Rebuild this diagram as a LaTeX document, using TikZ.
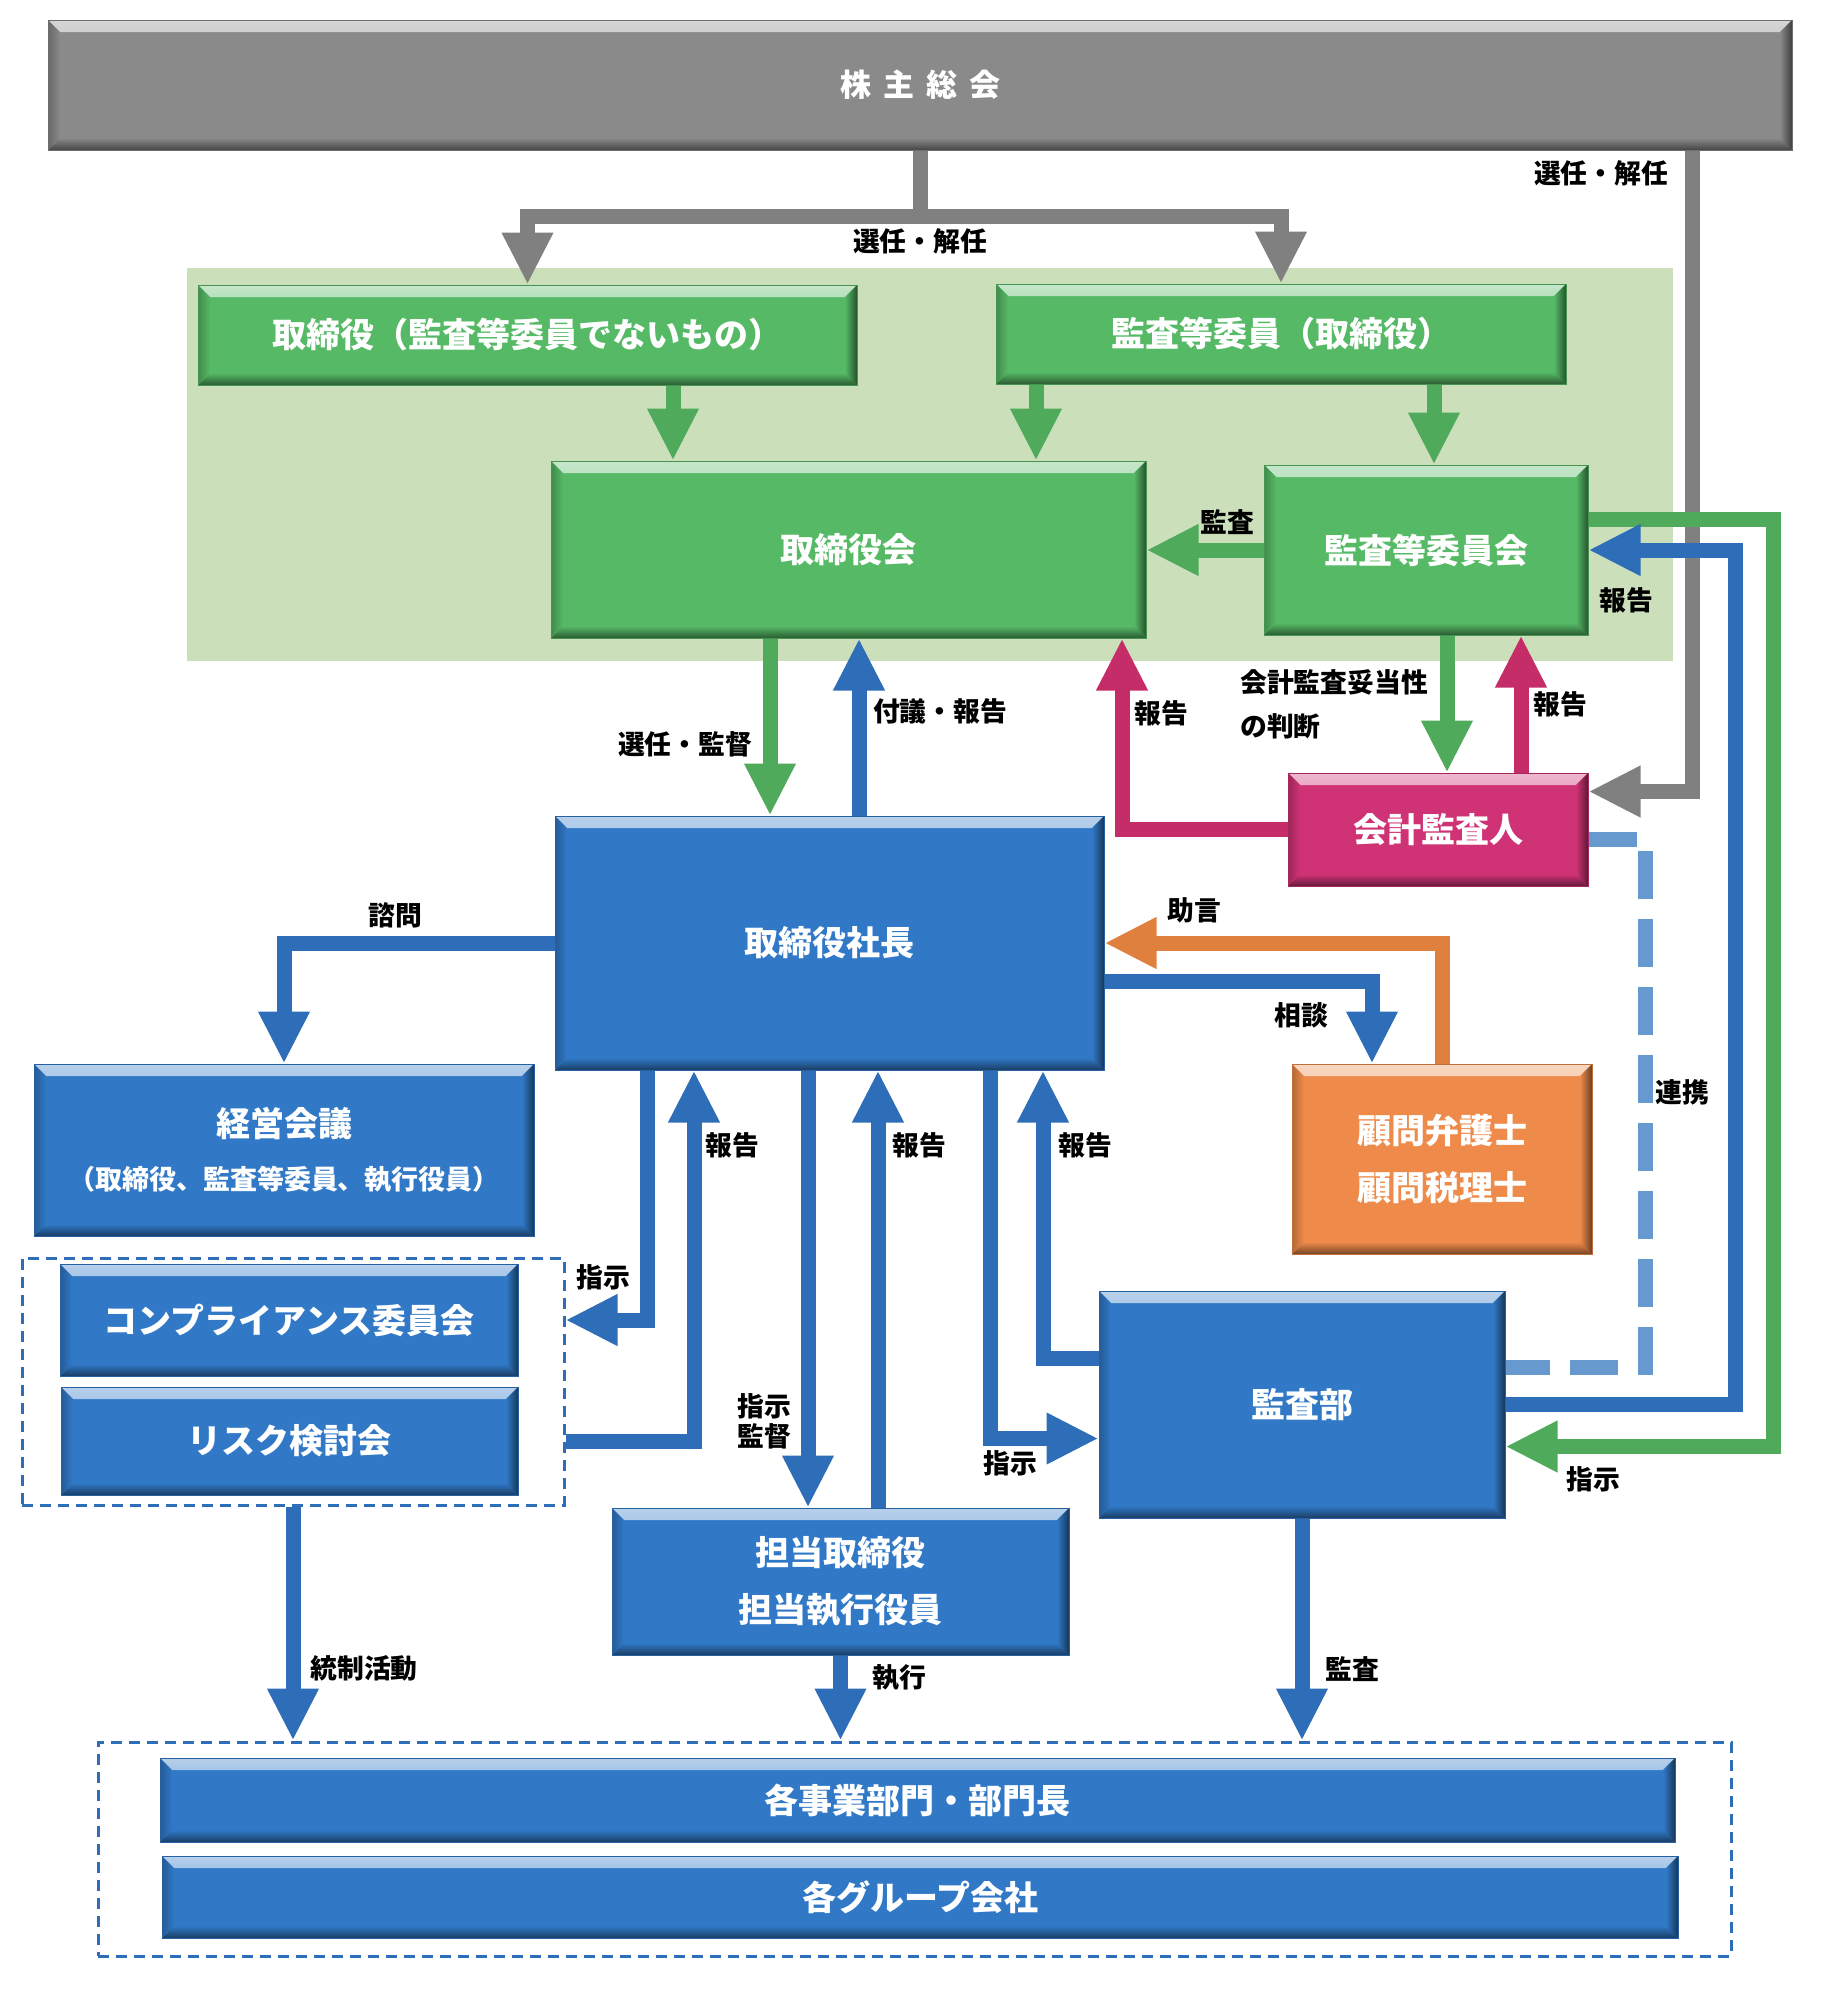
\documentclass[tikz,border=0pt]{standalone}
\usepackage{fontspec}
\setmainfont{Noto Sans CJK JP}
\usetikzlibrary{arrows.meta}

\definecolor{boxgray}{HTML}{8A8A8A}
\definecolor{linegray}{HTML}{808080}
\definecolor{boxgreen}{HTML}{56B965}
\definecolor{linegreen}{HTML}{4FAA5B}
\definecolor{bggreen}{HTML}{CADFBA}
\definecolor{boxblue}{HTML}{3179C7}
\definecolor{lineblue}{HTML}{2E6DB8}
\definecolor{boxpink}{HTML}{D03375}
\definecolor{linepink}{HTML}{C42D67}
\definecolor{boxorange}{HTML}{EE8B4B}
\definecolor{lineorange}{HTML}{E0803F}
\definecolor{dashblue}{HTML}{6699CD}

\newcommand{\titlefont}{\bfseries\fontsize{31}{37}\selectfont}
\newcommand{\panelfont}{\bfseries\fontsize{34}{57}\selectfont}
\newcommand{\flowfont}{\bfseries\fontsize{26.8}{30}\selectfont}

\newcommand{\bevelfill}[1]{%
  \shade[top color=#1!35!white, bottom color=#1]
    (path picture bounding box.north west) -- (path picture bounding box.north east)
    -- ([shift={(-12pt,-12pt)}]path picture bounding box.north east)
    -- ([shift={(12pt,-12pt)}]path picture bounding box.north west) -- cycle;
  \shade[top color=#1, bottom color=#1!50!black]
    ([shift={(12pt,12pt)}]path picture bounding box.south west)
    -- ([shift={(-12pt,12pt)}]path picture bounding box.south east)
    -- (path picture bounding box.south east) -- (path picture bounding box.south west) -- cycle;
  \shade[left color=#1, right color=#1!45!black]
    ([shift={(-12pt,-12pt)}]path picture bounding box.north east) -- (path picture bounding box.north east)
    -- (path picture bounding box.south east)
    -- ([shift={(-12pt,12pt)}]path picture bounding box.south east) -- cycle;
  \shade[left color=#1!75!black, right color=#1]
    (path picture bounding box.north west) -- ([shift={(12pt,-12pt)}]path picture bounding box.north west)
    -- ([shift={(12pt,12pt)}]path picture bounding box.south west)
    -- (path picture bounding box.south west) -- cycle;
}

\tikzset{
  panel/.style={fill=#1, draw=#1!80!black, line width=1pt, path picture={\bevelfill{#1}},
                text=white, font=\panelfont, align=center, inner sep=0pt},
  pipe/.style={draw=#1, line width=15pt, line join=miter},
  flow/.style={pipe=#1, -{Triangle[width=48pt,length=52pt]}},
  flowtag/.style={font=\flowfont, inner sep=0pt},
  groupbox/.style={draw=lineblue, line width=3pt, dash pattern=on 11pt off 7pt, inner sep=0pt}
}

\begin{document}
\begin{tikzpicture}[x=1pt, y=1pt]
\useasboundingbox (0,0) rectangle (1838,-1990);

% boxes
\node[panel=boxgray, minimum width=1744pt, minimum height=130pt, font=\titlefont] (gm) at (920,-85) {株\hspace{12pt}主\hspace{12pt}総\hspace{12pt}会};
\node[fill=bggreen, minimum width=1486pt, minimum height=393pt, inner sep=0pt] (zone) at (930,-464.5) {};
\node[panel=boxgreen, minimum width=659pt, minimum height=100pt] (dir) at (527.5,-335) {取締役（監査等委員でないもの）};
\node[panel=boxgreen, minimum width=570pt, minimum height=100pt] (acm) at (1281,-334) {監査等委員（取締役）};
\node[panel=boxgreen, minimum width=595pt, minimum height=177pt] (board) at (848.5,-549.5) {取締役会};
\node[panel=boxgreen, minimum width=324pt, minimum height=170pt] (acc) at (1426,-550) {監査等委員会};
\node[panel=boxpink, minimum width=300pt, minimum height=113pt] (auditor) at (1438,-829.5) {会計監査人};
\node[panel=boxblue, minimum width=549pt, minimum height=254pt] (pres) at (829.5,-943) {取締役社長};
\node[panel=boxblue, minimum width=500pt, minimum height=172pt, font=\bfseries\fontsize{34}{53}\selectfont] (mgmt) at (284,-1150)
  {経営会議\\{\fontsize{27}{53}\selectfont （取締役、監査等委員、執行役員）}};
\node[groupbox, minimum width=542pt, minimum height=247pt] (cgroup) at (293,-1381.5) {};
\node[panel=boxblue, minimum width=458pt, minimum height=112pt] (comp) at (289,-1320) {コンプライアンス委員会};
\node[panel=boxblue, minimum width=457pt, minimum height=108pt] (risk) at (289.5,-1441) {リスク検討会};
\node[panel=boxorange, minimum width=300pt, minimum height=190pt] (advisor) at (1442,-1159) {顧問弁護士\\顧問税理士};
\node[panel=boxblue, minimum width=406pt, minimum height=227pt] (iad) at (1302,-1404.5) {監査部};
\node[panel=boxblue, minimum width=457pt, minimum height=147pt] (exec) at (840.5,-1581.5) {担当取締役\\担当執行役員};
\node[groupbox, minimum width=1633pt, minimum height=214pt] (bgroup) at (914.5,-1849) {};
\node[panel=boxblue, minimum width=1515pt, minimum height=84pt] (div) at (917.5,-1800) {各事業部門・部門長};
\node[panel=boxblue, minimum width=1516pt, minimum height=82pt] (grp) at (920,-1897) {各グループ会社};

% lanes and ports
\coordinate (fork) at (920,-216);
\coordinate (laneA) at (673,0);
\coordinate (laneB) at (1036,0);
\coordinate (laneC) at (1434,0);
\coordinate (laneD) at (770,0);
\coordinate (laneE) at (859,0);
\coordinate (laneF) at (1122,0);
\coordinate (laneG) at (1447,0);
\coordinate (laneH) at (1521,0);
\coordinate (laneI) at (1692,0);
\coordinate (laneJ) at (1773,0);
\coordinate (laneK) at (1735,0);
\coordinate (laneL) at (1645,0);
\coordinate (laneO) at (1372,0);
\coordinate (laneP) at (647,0);
\coordinate (laneQ) at (694,0);
\coordinate (laneR) at (808,0);
\coordinate (laneS) at (878,0);
\coordinate (laneT) at (990,0);
\coordinate (laneU) at (1043,0);
\coordinate (audIn) at ([yshift=38pt]auditor.east);
\coordinate (audOut) at ([yshift=-10pt]auditor.east);
\coordinate (accOut) at ([yshift=31pt]acc.east);
\coordinate (iadIn) at ([yshift=-42pt]iad.east);
\coordinate (iadLink) at ([yshift=37pt]iad.east);
\coordinate (iadOrder) at ([yshift=-34pt]iad.west);
\coordinate (iadReport) at ([yshift=46pt]iad.west);
\coordinate (presOut) at ([yshift=-38pt]pres.east);

% connectors
\draw[pipe=linegray] (gm.south) -- (fork);
\draw[flow=linegray] (fork) -| (dir.north);
\draw[flow=linegray] (fork) -| (acm.north);
\draw[flow=linegray] (gm.south -| laneI) |- (audIn);

\draw[flow=linegreen] (laneA |- dir.south) -- (laneA |- board.north);
\draw[flow=linegreen] (laneB |- acm.south) -- (laneB |- board.north);
\draw[flow=linegreen] (laneC |- acm.south) -- (laneC |- acc.north);
\draw[flow=linegreen] (acc.west) -- (acc.west -| board.east);
\draw[flow=linegreen] (laneD |- board.south) -- (laneD |- pres.north);
\draw[flow=linegreen] (laneG |- acc.south) -- (laneG |- auditor.north);
\draw[flow=linegreen] (accOut) -- (accOut -| laneJ) |- (iadIn);

\draw[flow=lineblue] (laneE |- pres.north) -- (laneE |- board.south);
\draw[flow=lineblue] (iad.east) -- (iad.east -| laneK) |- (acc.east);
\draw[flow=linepink] (auditor.west) -| (laneF |- board.south);
\draw[flow=linepink] (laneH |- auditor.north) -- (laneH |- acc.south);
\draw[pipe=dashblue, dash pattern=on 48pt off 20pt] (audOut) -- (audOut -| laneL) |- (iadLink);

\draw[flow=lineblue] (pres.west) -| (mgmt.north);
\draw[flow=lineorange] (advisor.north) |- (pres.east);
\draw[flow=lineblue] (presOut) -| (laneO |- advisor.north);
\draw[flow=lineblue] (laneP |- pres.south) |- (cgroup.east |- comp.east);
\draw[flow=lineblue] (cgroup.east |- risk.east) -| (laneQ |- pres.south);
\draw[flow=lineblue] (laneR |- pres.south) -- (laneR |- exec.north);
\draw[flow=lineblue] (laneS |- exec.north) -- (laneS |- pres.south);
\draw[flow=lineblue] (laneT |- pres.south) |- (iadOrder);
\draw[flow=lineblue] (iadReport) -| (laneU |- pres.south);
\draw[flow=lineblue] (cgroup.south) -- (cgroup.south |- bgroup.north);
\draw[flow=lineblue] (exec.south) -- (exec.south |- bgroup.north);
\draw[flow=lineblue] (iad.south) -- (iad.south |- bgroup.north);

% labels
\node[flowtag] (tElect) at (920,-241) {選任・解任};
\node[flowtag] (tElectR) at (1601,-173) {選任・解任};
\node[flowtag] (tAudit) at (1227,-522) {監査};
\node[flowtag] (tSuper) at (685,-744) {選任・監督};
\node[flowtag] (tSubmit) at (940,-711) {付議・報告};
\node[flowtag] (tRepA) at (1161,-713) {報告};
\node[flowtag, align=left, anchor=west, font=\bfseries\fontsize{26.8}{44}\selectfont] (tJudge) at (1240,-704) {会計監査妥当性\\の判断};
\node[flowtag] (tRepB) at (1560,-704) {報告};
\node[flowtag] (tRepC) at (1626,-600) {報告};
\node[flowtag] (tLink) at (1682,-1092) {連携};
\node[flowtag] (tConsult) at (395,-915) {諮問};
\node[flowtag] (tAdvice) at (1194,-910) {助言};
\node[flowtag] (tTalk) at (1301,-1015) {相談};
\node[flowtag] (tOrderA) at (603,-1277) {指示};
\node[flowtag] (tRepD) at (732,-1145) {報告};
\node[flowtag, align=center] (tOrderB) at (764,-1421) {指示\\監督};
\node[flowtag] (tRepE) at (919,-1145) {報告};
\node[flowtag] (tOrderC) at (1010,-1463) {指示};
\node[flowtag] (tRepF) at (1085,-1145) {報告};
\node[flowtag] (tOrderD) at (1593,-1479) {指示};
\node[flowtag] (tControl) at (364,-1668) {統制活動};
\node[flowtag] (tExec) at (899,-1678) {執行};
\node[flowtag] (tAuditB) at (1352,-1669) {監査};
\end{tikzpicture}
\end{document}
